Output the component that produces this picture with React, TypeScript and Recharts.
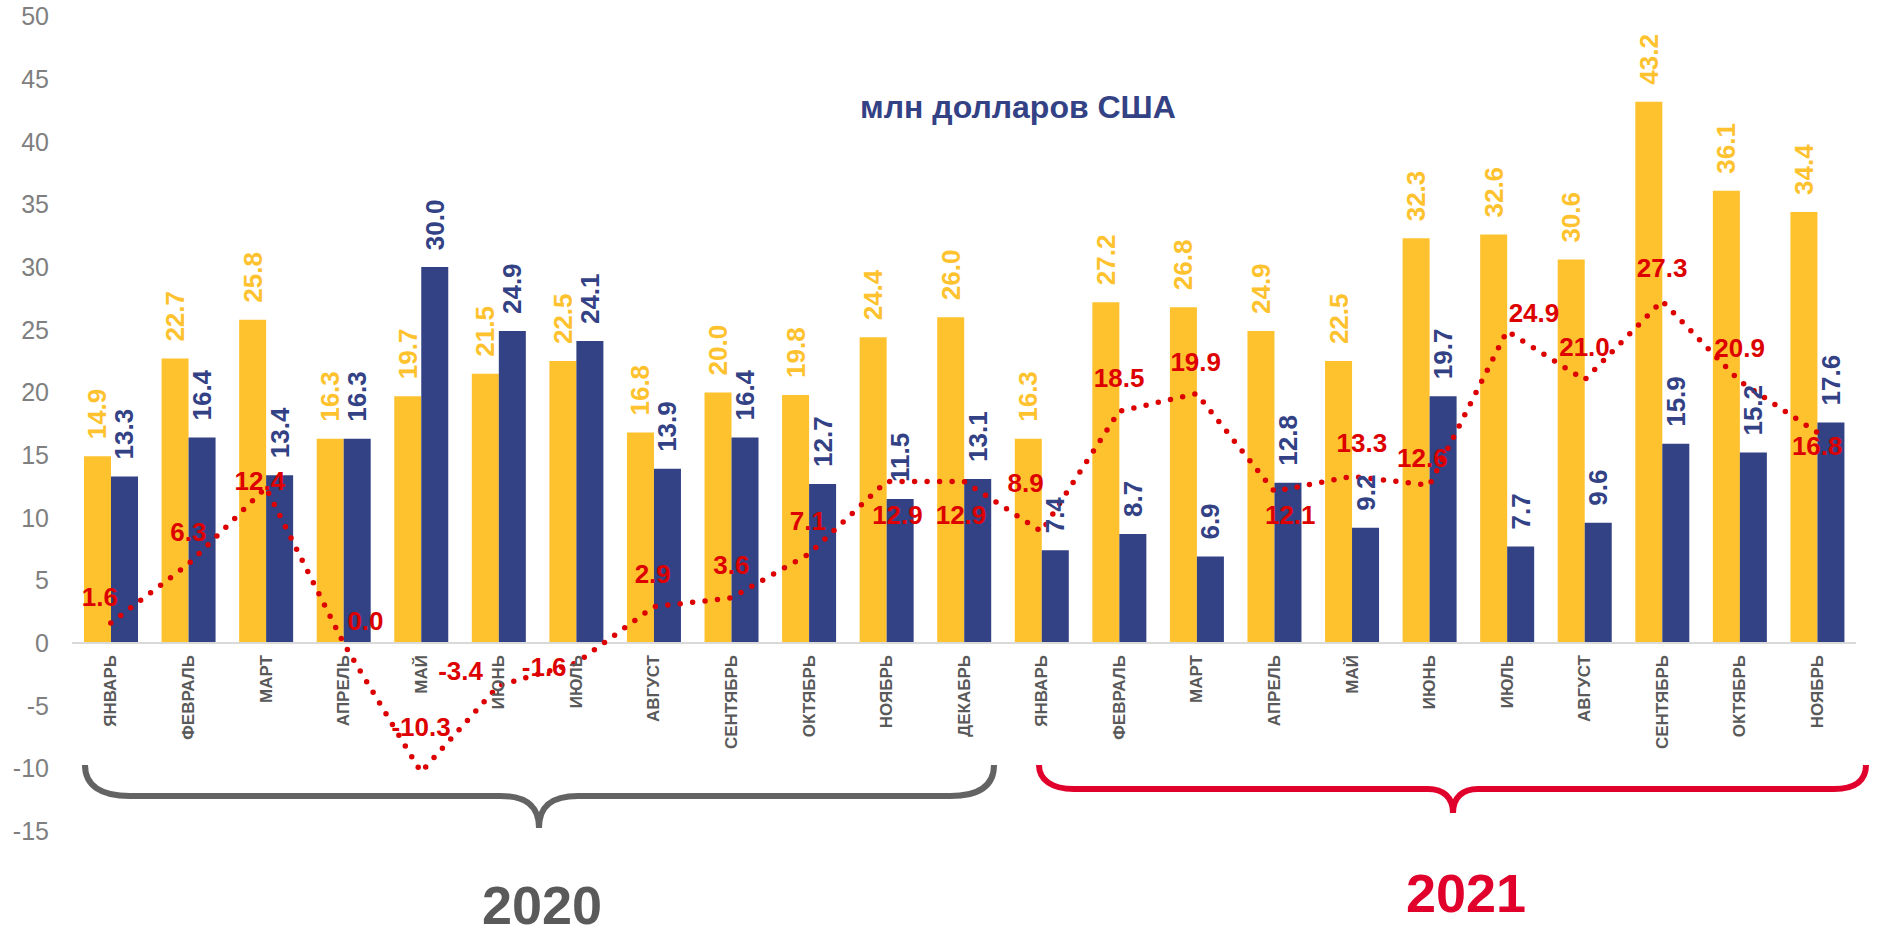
import React from 'react';
import { ComposedChart, Bar, Line, XAxis, YAxis, ReferenceLine, LabelList } from 'recharts';

// months Jan 2020 .. Nov 2021
const MONTHS = [
    'ЯНВАРЬ', 'ФЕВРАЛЬ', 'МАРТ', 'АПРЕЛЬ', 'МАЙ', 'ИЮНЬ', 'ИЮЛЬ', 'АВГУСТ', 'СЕНТЯБРЬ', 'ОКТЯБРЬ', 'НОЯБРЬ', 'ДЕКАБРЬ',
    'ЯНВАРЬ', 'ФЕВРАЛЬ', 'МАРТ', 'АПРЕЛЬ', 'МАЙ', 'ИЮНЬ', 'ИЮЛЬ', 'АВГУСТ', 'СЕНТЯБРЬ', 'ОКТЯБРЬ', 'НОЯБРЬ',
];
const EXPORTS = [14.9, 22.7, 25.8, 16.3, 19.7, 21.5, 22.5, 16.8, 20.0, 19.8, 24.4, 26.0, 16.3, 27.2, 26.8, 24.9, 22.5, 32.3, 32.6, 30.6, 43.2, 36.1, 34.4];
const IMPORTS = [13.3, 16.4, 13.4, 16.3, 30.0, 24.9, 24.1, 13.9, 16.4, 12.7, 11.5, 13.1, 7.4, 8.7, 6.9, 12.8, 9.2, 19.7, 7.7, 9.6, 15.9, 15.2, 17.6];
const BALANCE = [1.6, 6.3, 12.4, 0.0, -10.3, -3.4, -1.6, 2.9, 3.6, 7.1, 12.9, 12.9, 8.9, 18.5, 19.9, 12.1, 13.3, 12.6, 24.9, 21.0, 27.3, 20.9, 16.8];
const Y_TICKS = [-15, -10, -5, 0, 5, 10, 15, 20, 25, 30, 35, 40, 45, 50];

// where each red label sits relative to its point (dx, dy of the label centre)
const BALANCE_LABEL_SHIFT = [
    [-11, -26], [0, -32], [-6, -7], [22, -22], [0, -45], [-38, -15], [-32, 4], [-1, -33], [0, -33], [-1, -33], [11, 34], [-3, 34],
    [-16, -49], [0, -33], [-1, -32], [16, 24], [10, -33], [-7, -27], [27, -18], [0, -33], [0, -33], [0, -33], [0, 13],
];

const FONT = "'Liberation Sans', Arial, sans-serif";
const YELLOW = '#FEC22F';
const NAVY = '#334185';
const RED = '#DD0000';

const data = MONTHS.map((month, i) => ({
    month,
    exports: EXPORTS[i],
    imports: IMPORTS[i],
    balance: BALANCE[i],
}));

const pick = (props: any) => {
    const vb = props.viewBox || {};
    return {
        x: vb.x ?? props.x,
        y: vb.y ?? props.y,
        width: vb.width ?? props.width ?? 0,
        height: vb.height ?? props.height ?? 0,
    };
};

const barValueLabel = (color: string) => (props: any) => {
    const { x, y, width } = pick(props);
    const cx = x + width / 2;
    const cy = y - 17;
    return (
        <text x={cx} y={cy} transform={`rotate(-90, ${cx}, ${cy})`} textAnchor="start" dominantBaseline="central"
            fill={color} fontFamily={FONT} fontSize={26} fontWeight="bold">
            {Number(props.value).toFixed(1)}
        </text>
    );
};

const monthLabel = (props: any) => {
    const { x, y, width, height } = pick(props);
    const cx = x + width; // boundary between the two bars = category centre
    const cy = y + height + 12;
    return (
        <text x={cx} y={cy} transform={`rotate(-90, ${cx}, ${cy})`} textAnchor="end" dominantBaseline="central"
            fill="#595959" fontFamily={FONT} fontSize={17} fontWeight="bold">
            {props.value}
        </text>
    );
};

const balanceLabel = (props: any) => {
    const { x, y } = pick(props);
    const [dx, dy] = BALANCE_LABEL_SHIFT[props.index] || [0, -33];
    return (
        <text x={x + dx} y={y + dy} textAnchor="middle" dominantBaseline="central"
            fill={RED} fontFamily={FONT} fontSize={26} fontWeight="bold">
            {Number(props.value).toFixed(1)}
        </text>
    );
};

const App: React.FC = () => {
    return (
        <div style={{ position: 'absolute', left: 0, top: 0, width: 1878, height: 929, background: '#fff' }}>
            <ComposedChart width={1878} height={929} data={data} barGap={0} barSize={27}
                margin={{ top: 16.5, right: 22, bottom: 98, left: 0 }}>
                <XAxis dataKey="month" hide />
                <YAxis domain={[-15, 50]} ticks={Y_TICKS} width={72} axisLine={false} tickLine={false}
                    tickSize={0} tickMargin={23} interval={0}
                    tick={{ fill: '#7F7F7F', fontSize: 25, fontFamily: FONT }} />
                <Bar dataKey="exports" fill={YELLOW} isAnimationActive={false}>
                    <LabelList dataKey="exports" content={barValueLabel(YELLOW)} />
                    <LabelList dataKey="month" content={monthLabel} />
                </Bar>
                <Bar dataKey="imports" fill={NAVY} isAnimationActive={false}>
                    <LabelList dataKey="imports" content={barValueLabel(NAVY)} />
                </Bar>
                <ReferenceLine y={0} stroke="#D9D9D9" strokeWidth={2} />
                <Line dataKey="balance" type="linear" stroke={RED} strokeWidth={5.5} strokeDasharray="0 12.5"
                    strokeLinecap="round" dot={false} activeDot={false} isAnimationActive={false}>
                    <LabelList dataKey="balance" content={balanceLabel} />
                </Line>
            </ComposedChart>
            <svg width={1878} height={929} style={{ position: 'absolute', left: 0, top: 0, pointerEvents: 'none' }}>
                <text x={1018} y={118} textAnchor="middle" fill={NAVY} fontFamily={FONT} fontSize={32} fontWeight="bold">
                    млн долларов США
                </text>
                <path d="M85,765 C85,785 100,796 130,796 L500,796 C525,796 539,805 539,828 C539,805 553,796 578,796 L950,796 C980,796 994,785 994,765"
                    fill="none" stroke="#636363" strokeWidth={6} />
                <path d="M1039,765 C1039,780 1052,789 1074,789 L1428,789 C1443,789 1453,797 1453,813 C1453,797 1463,789 1478,789 L1834,789 C1856,789 1866,780 1866,765"
                    fill="none" stroke="#E0002B" strokeWidth={6} />
                <text x={542} y={924} textAnchor="middle" fill="#5A5A5A" fontFamily={FONT} fontSize={54} fontWeight="bold">2020</text>
                <text x={1466} y={912} textAnchor="middle" fill="#E0002B" fontFamily={FONT} fontSize={54} fontWeight="bold">2021</text>
            </svg>
        </div>
    );
};

export default App;
